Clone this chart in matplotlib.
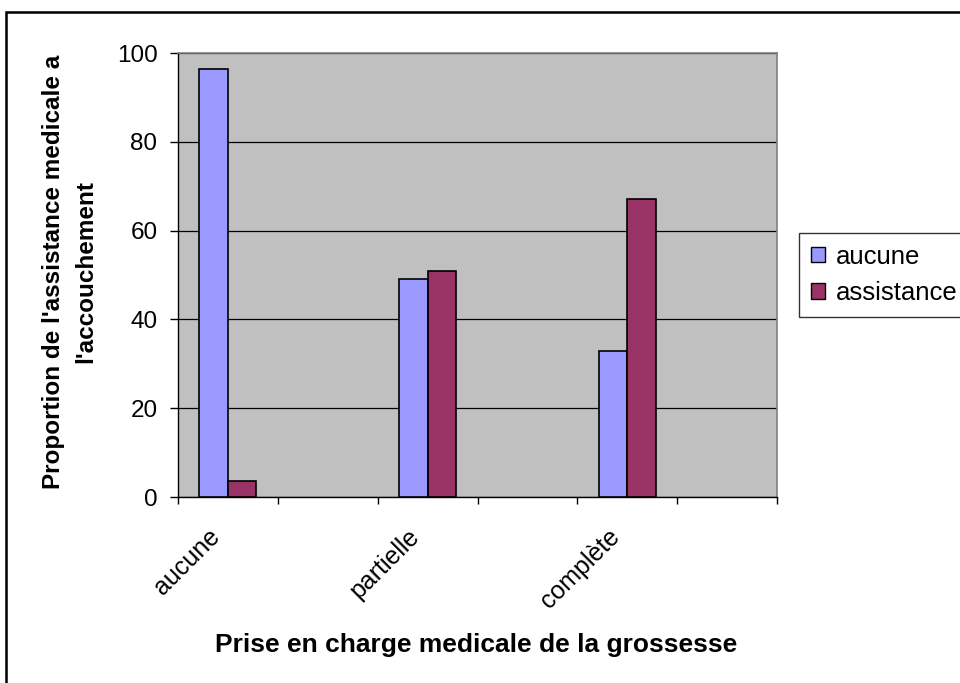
import numpy as np
import matplotlib
matplotlib.use('Agg')
import matplotlib.pyplot as plt
from matplotlib.patches import Rectangle, Patch
from matplotlib.transforms import ScaledTranslation

plt.rcParams['font.family'] = ['Liberation Sans', 'DejaVu Sans']

# ---- data ----
categories = ["aucune", "", "partielle", "", "complète", ""]
series_names = ["aucune", "assistance"]
aucune_vals = [96.3, np.nan, 49.1, np.nan, 32.9, np.nan]
assistance_vals = [3.7, np.nan, 50.9, np.nan, 67.1, np.nan]
yticks = [0, 20, 40, 60, 80, 100]
colors = ["#9999FF", "#993366"]

W, H = 960, 683
fig = plt.figure(figsize=(W / 100, H / 100), dpi=100)
ax = fig.add_axes([178 / W, 1 - 497 / H, (777 - 178) / W, (497 - 53) / H])
ax.set_facecolor('#C0C0C0')

n = len(categories)
x = np.arange(n) + 0.5
w = 1 / 3.5
for vals, off, col in [(aucune_vals, -w / 2, colors[0]), (assistance_vals, w / 2, colors[1])]:
    v = np.array(vals, dtype=float)
    m = ~np.isnan(v)
    ax.bar(x[m] + off, v[m], width=w, color=col, edgecolor='black', linewidth=1.2, zorder=3)

ax.set_xlim(0, n)
ax.set_ylim(0, 100)
ax.set_yticks(yticks)
ax.set_yticklabels([str(t) for t in yticks], fontsize=17.5)
ax.yaxis.grid(True, color='black', linewidth=0.9, zorder=1)
ax.set_axisbelow(True)

ax.set_xticks(np.arange(n + 1))
ax.set_xticklabels([])
ax.set_xticks(x, minor=True)
ax.set_xticklabels(categories, minor=True, fontsize=18, rotation=45,
                   ha='right', va='top', rotation_mode='anchor')
ax.tick_params(axis='x', which='major', direction='out', length=5, width=1, color='black')
ax.tick_params(axis='x', which='minor', length=0, pad=20)
ax.tick_params(axis='y', direction='out', length=5.8, width=1, color='black', pad=9)
off = ScaledTranslation(-0.20, 0, fig.dpi_scale_trans)
for lab in ax.get_xticklabels(minor=True):
    lab.set_transform(lab.get_transform() + off)

for s in ['left', 'bottom']:
    ax.spines[s].set_color('black')
    ax.spines[s].set_linewidth(1.0)
for s in ['top', 'right']:
    ax.spines[s].set_color('#808080')
    ax.spines[s].set_linewidth(1.2)

fig.text(476 / W, 1 - 645 / H, "Prise en charge medicale de la grossesse",
         fontsize=19, fontweight='bold', ha='center', va='center')
fig.text(70 / W, 1 - 272 / H, "Proportion de l'assistance medicale a\nl'accouchement",
         fontsize=17.5, fontweight='bold', ha='center', va='center', rotation=90,
         multialignment='center', linespacing=1.5)

handles = [Patch(facecolor=c, edgecolor='black', linewidth=1.0) for c in colors]
leg = fig.legend(handles, series_names, loc='upper left',
                 bbox_to_anchor=(799 / W, 1 - 233 / H), bbox_transform=fig.transFigure,
                 fontsize=18.5, frameon=True, fancybox=False, borderaxespad=0,
                 handlelength=0.58, handleheight=0.58, handletextpad=0.4,
                 borderpad=0.45, labelspacing=0.5)
leg.get_frame().set_edgecolor('black')
leg.get_frame().set_linewidth(1.0)

fig.patches.append(Rectangle((5.5 / W, -0.1), 1.2, 1 - 11.5 / H + 0.1,
                             transform=fig.transFigure, fill=False,
                             edgecolor='black', linewidth=1.8))

fig.savefig('out.png', dpi=100)
